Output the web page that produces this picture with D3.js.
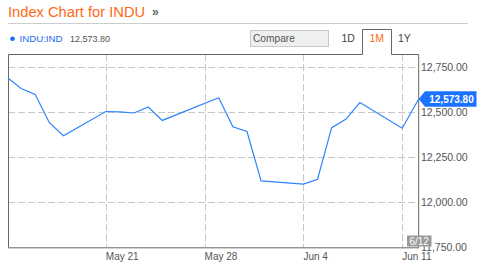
<!DOCTYPE html>
<html><head><meta charset="utf-8">
<script src="https://cdn.jsdelivr.net/npm/d3@7"></script>
<style>
html,body{margin:0;padding:0;background:#fff;}
svg{display:block;font-family:"Liberation Sans",Arial,sans-serif;}
</style></head>
<body><svg id="c" width="479" height="267"></svg>
<script>
const dates = ["2012-05-14","2012-05-15","2012-05-16","2012-05-17","2012-05-18",
  "2012-05-21","2012-05-22","2012-05-23","2012-05-24","2012-05-25",
  "2012-05-29","2012-05-30","2012-05-31","2012-06-01",
  "2012-06-04","2012-06-05","2012-06-06","2012-06-07","2012-06-08",
  "2012-06-11","2012-06-12T04:00:00"];
const closes = [12695.35,12632.00,12598.55,12442.49,12369.38,
  12504.48,12502.81,12496.15,12529.75,12454.83,
  12580.69,12419.86,12393.45,12118.57,
  12101.46,12127.95,12414.79,12460.96,12554.20,
  12411.23,12573.80];
const xTickDates = ["2012-05-21","2012-05-28","2012-06-04","2012-06-11"];
const xTickLabels = ["May 21","May 28","Jun 4","Jun 11"];
const yTicks = [11750,12000,12250,12500,12750];
const tabs = ["1D","1M","1Y"];
const titleText = "Index Chart for INDU";
const symbolText = "INDU:IND";
const lastValueText = "12,573.80";
const dateBadge = "6/12";

const parse = s => new Date(s.length > 10 ? s : s + "T00:00:00");
const data = dates.map((d,i)=>({date:parse(d), v:closes[i]}));

const L = 8, R = 418.7, T = 54, B = 247.3;
const svg = d3.select("#c");
const x = d3.scaleTime().domain([parse("2012-05-14"), parse("2012-06-12T04:00:00")]).range([7, R]);
const y = d3.scaleLinear().domain([11750, 12750]).range([B, 67.3]);

// title
svg.append("text").attr("x",8).attr("y",17).attr("fill","#ff6a13")
  .attr("font-size","14.7px").text(titleText);
svg.append("text").attr("x",152).attr("y",16).attr("fill","#666")
  .attr("font-size","12px").attr("font-weight","bold").text("»");
svg.append("line").attr("x1",8).attr("x2",468).attr("y1",23.5).attr("y2",23.5)
  .attr("stroke","#ccc").attr("stroke-width",1);

// legend
svg.append("circle").attr("cx",12.5).attr("cy",38.7).attr("r",2.3).attr("fill","#1a6cf0");
svg.append("text").attr("x",19.5).attr("y",42.3).attr("fill","#1a6cf0")
  .attr("font-size","9.7px").text(symbolText);
svg.append("text").attr("x",70).attr("y",42.3).attr("fill","#555")
  .attr("font-size","9px").text(lastValueText);

// compare box
svg.append("rect").attr("x",250.5).attr("y",30.5).attr("width",78).attr("height",16)
  .attr("fill","#eef0ee").attr("stroke","#c8c8c8");
svg.append("text").attr("x",253).attr("y",42.3).attr("fill","#555")
  .attr("font-size","10.2px").text("Compare");

// tabs
const tabX = [341.5, 369.5, 398];
tabs.forEach((t,i)=>{
  svg.append("text").attr("x",tabX[i]).attr("y",42.3)
    .attr("fill", t==="1M" ? "#ff6a13" : "#444")
    .attr("font-size","10.5px").text(t);
});

// grid
const g = svg.append("g");
yTicks.slice(1).forEach(t=>{
  g.append("line").attr("x1",L).attr("x2",R).attr("y1",Math.round(y(t))+0.5).attr("y2",Math.round(y(t))+0.5)
    .attr("stroke","#c8c8c8").attr("stroke-dasharray","7,3");
});
xTickDates.forEach(d=>{
  const xv = Math.round(x(parse(d)))+0.5;
  g.append("line").attr("x1",xv).attr("x2",xv).attr("y1",T).attr("y2",B)
    .attr("stroke","#c8c8c8").attr("stroke-dasharray","7,3");
});

// frame with tab
const fr = d3.path();
fr.moveTo(L+0.5, B);
fr.lineTo(L+0.5, T+0.5);
fr.lineTo(362.5, T+0.5);
fr.lineTo(362.5, 29.5);
fr.lineTo(391.5, 29.5);
fr.lineTo(391.5, T+0.5);
fr.lineTo(R, T+0.5);
fr.lineTo(R, B);
svg.append("path").attr("d",fr.toString()).attr("fill","none").attr("stroke","#666").attr("stroke-width",1);
svg.append("line").attr("x1",L).attr("x2",R+0.5).attr("y1",B+0.5).attr("y2",B+0.5)
  .attr("stroke","#666");

// line
svg.append("defs").append("clipPath").attr("id","clp").append("rect")
  .attr("x",L).attr("y",T).attr("width",R-L+1).attr("height",B-T);
svg.append("path").datum(data).attr("clip-path","url(#clp)")
  .attr("fill","none").attr("stroke","#2d85ff").attr("stroke-width",1.2)
  .attr("d", d3.line().x(d=>x(d.date)).y(d=>y(d.v)));

// y labels
yTicks.forEach(t=>{
  svg.append("text").attr("x",421).attr("y",y(t)+4).attr("fill","#555")
    .attr("font-size","10.5px").text(d3.format(",.2f")(t));
});

// x labels
xTickDates.forEach((d,i)=>{
  svg.append("text").attr("x",x(parse(d))).attr("y",259.5).attr("fill","#555")
    .attr("font-size","10px").text(xTickLabels[i]);
});

// date badge
svg.append("rect").attr("x",407).attr("y",235.5).attr("width",24.5).attr("height",11).attr("fill","#999");
svg.append("text").attr("x",419.2).attr("y",244.5).attr("text-anchor","middle").attr("fill","#fff")
  .attr("font-size","10px").text(dateBadge);

// price tag
const last = data[data.length-1];
const ty = y(last.v);
const tx = x(last.date);
const tag = d3.path();
tag.moveTo(tx, ty);
tag.lineTo(425, ty-7.8);
tag.lineTo(476.5, ty-7.8);
tag.lineTo(476.5, ty+7.8);
tag.lineTo(425, ty+7.8);
tag.closePath();
svg.append("path").attr("d",tag.toString()).attr("fill","#1a72ff");
svg.append("text").attr("x",451.5).attr("y",ty+3.7).attr("text-anchor","middle")
  .attr("fill","#fff").attr("font-size","10px").attr("font-weight","bold")
  .text(d3.format(",.2f")(last.v));
</script></body></html>
